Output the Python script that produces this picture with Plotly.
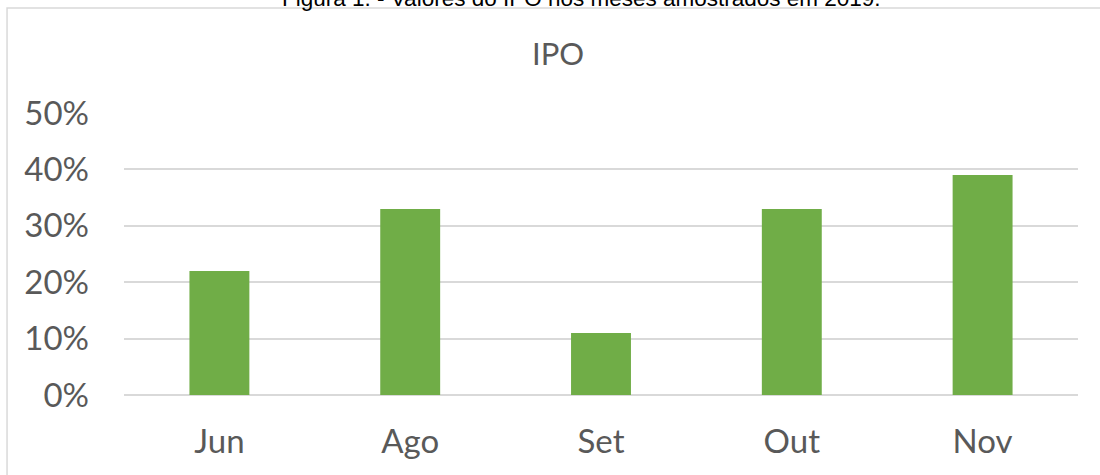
import plotly.graph_objects as go

meses = ["Jun", "Ago", "Set", "Out", "Nov"]
ipo = [0.22, 0.33, 0.11, 0.33, 0.39]
y_ticks = [0, 0.1, 0.2, 0.3, 0.4, 0.5]

fig = go.Figure()
fig.add_trace(go.Bar(x=meses, y=ipo, marker=dict(color="#70ad47", line=dict(width=0))))

cinza = "#595959"
fig.update_layout(
    width=1100, height=475,
    paper_bgcolor="white", plot_bgcolor="white",
    margin=dict(l=124, r=22, t=113, b=80, autoexpand=False),
    bargap=0.686,
    showlegend=False,
    font=dict(family="Lato, Carlito, sans-serif", color=cinza),
)
fig.update_yaxes(
    range=[0, 0.5], tickvals=y_ticks, tickformat=".0%",
    showgrid=True, gridcolor="#d9d9d9", gridwidth=1.5,
    zeroline=True, zerolinecolor="#d9d9d9", zerolinewidth=1.5,
    showline=False, automargin=False,
    tickfont=dict(size=33, color=cinza), ticklabelstandoff=34,
)
fig.update_xaxes(
    showline=False, showgrid=False, automargin=False,
    tickfont=dict(size=33, color=cinza), ticklabelstandoff=24,
)

# moldura do grafico
fig.add_shape(type="rect", xref="paper", yref="paper",
              x0=-0.1226, x1=1.2, y0=-0.5, y1=1.372,
              line=dict(color="#d9d9d9", width=1.5), layer="below")

fig.add_annotation(text="IPO", xref="paper", yref="paper", x=0.455, y=1.213,
                   showarrow=False, yanchor="middle",
                   font=dict(size=31, color=cinza, family="Lato, Carlito, sans-serif"))

fig.add_annotation(text="Figura 1. - Valores do IPO nos meses amostrados em 2019.",
                   xref="paper", yref="paper", x=0.48, y=1.405,
                   showarrow=False, yanchor="middle",
                   font=dict(size=22.5, color="black", family="Arial, Liberation Sans, sans-serif"))

# tira a margem padrao do body para o grafico ficar no canto da pagina
fig.write_html("out.html", config={"displayModeBar": False},
               post_script="document.body.style.margin='0';")
